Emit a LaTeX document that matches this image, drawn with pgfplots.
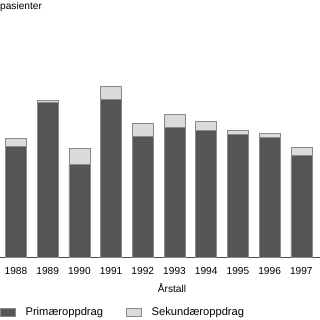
\documentclass[border=0pt]{standalone}
\usepackage{pgfplots}
\pgfplotsset{compat=1.18}
\usepackage{fontspec}
\setmainfont{Liberation Sans}
\definecolor{prim}{HTML}{555555}
\definecolor{sek}{HTML}{DADADA}
\definecolor{edge}{HTML}{8A8A8A}
\begin{document}
\begin{tikzpicture}
\useasboundingbox (-16bp,-62.5bp) rectangle (304bp,257.5bp);
\begin{axis}[
  anchor=origin,
  x=31.7bp, y=1bp,
  xmin=-0.505, xmax=9.6,
  ymin=0, ymax=172,
  axis x line*=bottom,
  axis y line*=left,
  x axis line style={draw=black!70, line width=0.6bp},
  y axis line style={draw=none},
  ytick=\empty,
  ybar stacked,
  bar width=21bp,
  xtick={0,...,9},
  xticklabels={1988,1989,1990,1991,1992,1993,1994,1995,1996,1997},
  major tick length=0pt,
  /pgf/number format/assume math mode=true,
  xticklabel style={font=\fontsize{10.2}{12}\selectfont, inner sep=0pt, anchor=north, yshift=-10bp},
  every axis x label/.style={at={(axis cs:4.92,0)}, anchor=north, yshift=-26bp, inner sep=0pt, font=\fontsize{10.2}{12}\selectfont},
  xlabel={Årstall},
  every axis y label/.style={at={(axis cs:-0.505,250.5)}, anchor=west, inner sep=0pt, font=\fontsize{10.2}{12}\selectfont},
  ylabel={pasienter},
  legend columns=2,
  legend style={at={(rel axis cs:0,0)}, anchor=north west, yshift=-50bp, draw=none, fill=none, inner sep=0pt, outer sep=0pt, font=\fontsize{11.2}{13}\selectfont,
    nodes={inner sep=0pt},
    /tikz/every odd column/.append style={column sep=10bp},
    /tikz/every even column/.append style={column sep=23bp}},
  legend cell align=left,
  legend image code/.code={\draw[#1] (0bp,-4bp) rectangle (15bp,4bp);},
]
\addplot[fill=prim, draw=edge, line width=0.6bp] coordinates {
(0,111) (1,155) (2,93) (3,158) (4,121) (5,130) (6,127) (7,123) (8,120) (9,102)};
\addplot[fill=sek, draw=edge, line width=0.6bp] coordinates {
(0,8) (1,2) (2,16) (3,13) (4,13) (5,13) (6,9) (7,4) (8,4) (9,8)};
\legend{Primæroppdrag, Sekundæroppdrag}
\end{axis}
\end{tikzpicture}
\end{document}
